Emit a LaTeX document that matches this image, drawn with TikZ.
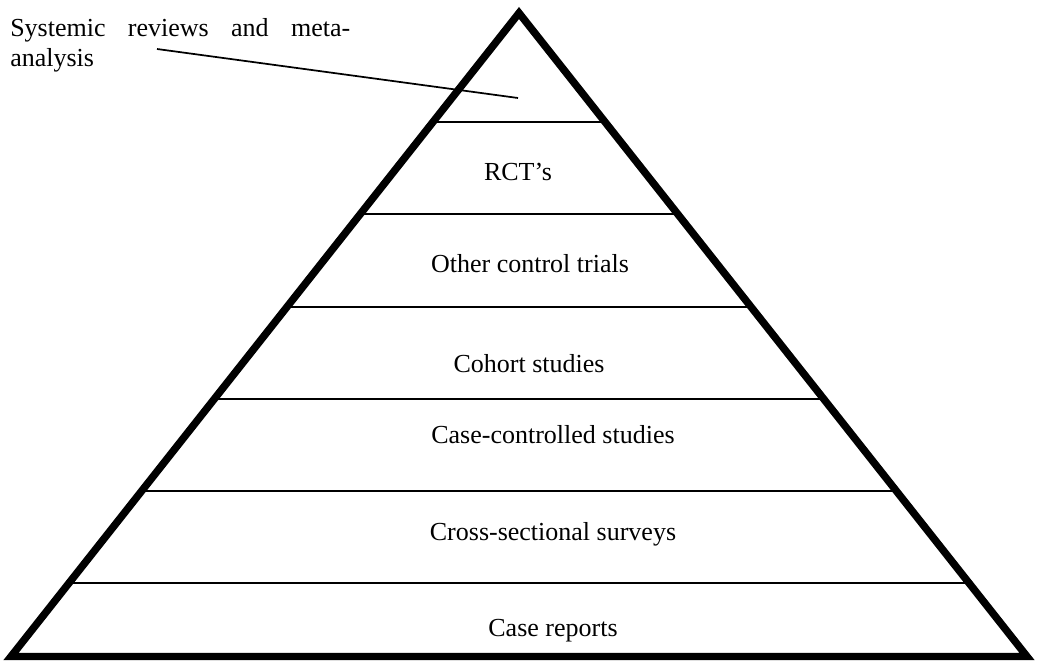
\documentclass[tikz,border=0pt]{standalone}
\usepackage{fontspec}
\setmainfont{Liberation Serif}
\usepackage{tikz}
\usetikzlibrary{positioning}
\newcommand{\levelfont}{\fontsize{19.5}{23}\selectfont}
\tikzset{
    level/.style={font=\levelfont, inner sep=0pt, anchor=base},
    rung/.style={line width=1.2pt},
    outline/.style={line width=5.6pt, miter limit=10},
    leader/.style={line width=1.3pt}
}

\begin{document}
\begin{tikzpicture}[x=0.75pt, y=-0.75pt]
    \useasboundingbox (0,0) rectangle (1037,660);

    % corners of the pyramid
    \coordinate (top) at (519,13);
    \coordinate (bl) at (11,656.5);
    \coordinate (br) at (1027,656.5);

    % dividing lines
    \foreach \y in {122,214,307,399,491,583}
        \draw[rung] (0,\y) -- (1037,\y);
    \fill[white] (0,0) -- (top) -- (bl) -- (0,660) -- cycle;
    \fill[white] (1037,0) -- (top) -- (br) -- (1037,660) -- cycle;

    % outline
    \draw[outline] (top) -- (bl) -- (br) -- cycle;

    % levels
    \node[level] (rct) at (518,180) {RCT’s};
    \node[level] (oct) at (530,272) {Other control trials};
    \node[level] (coh) at (529,372) {Cohort studies};
    \node[level] (ccs) at (553,443) {Case-controlled studies};
    \node[level] (css) at (553,540) {Cross-sectional surveys};
    \node[level] (cr) at (553,636) {Case reports};

    % label at the top
    \node[font=\levelfont, inner sep=0pt, anchor=north west, text width=255pt, align=justify] (srm) at (10,18) {Systemic reviews and meta-analysis};
    \coordinate (srmtail) at (157,49);
    \coordinate (srmtip) at (518,98);
    \draw[leader] (srmtail) -- (srmtip);

\end{tikzpicture}
\end{document}
